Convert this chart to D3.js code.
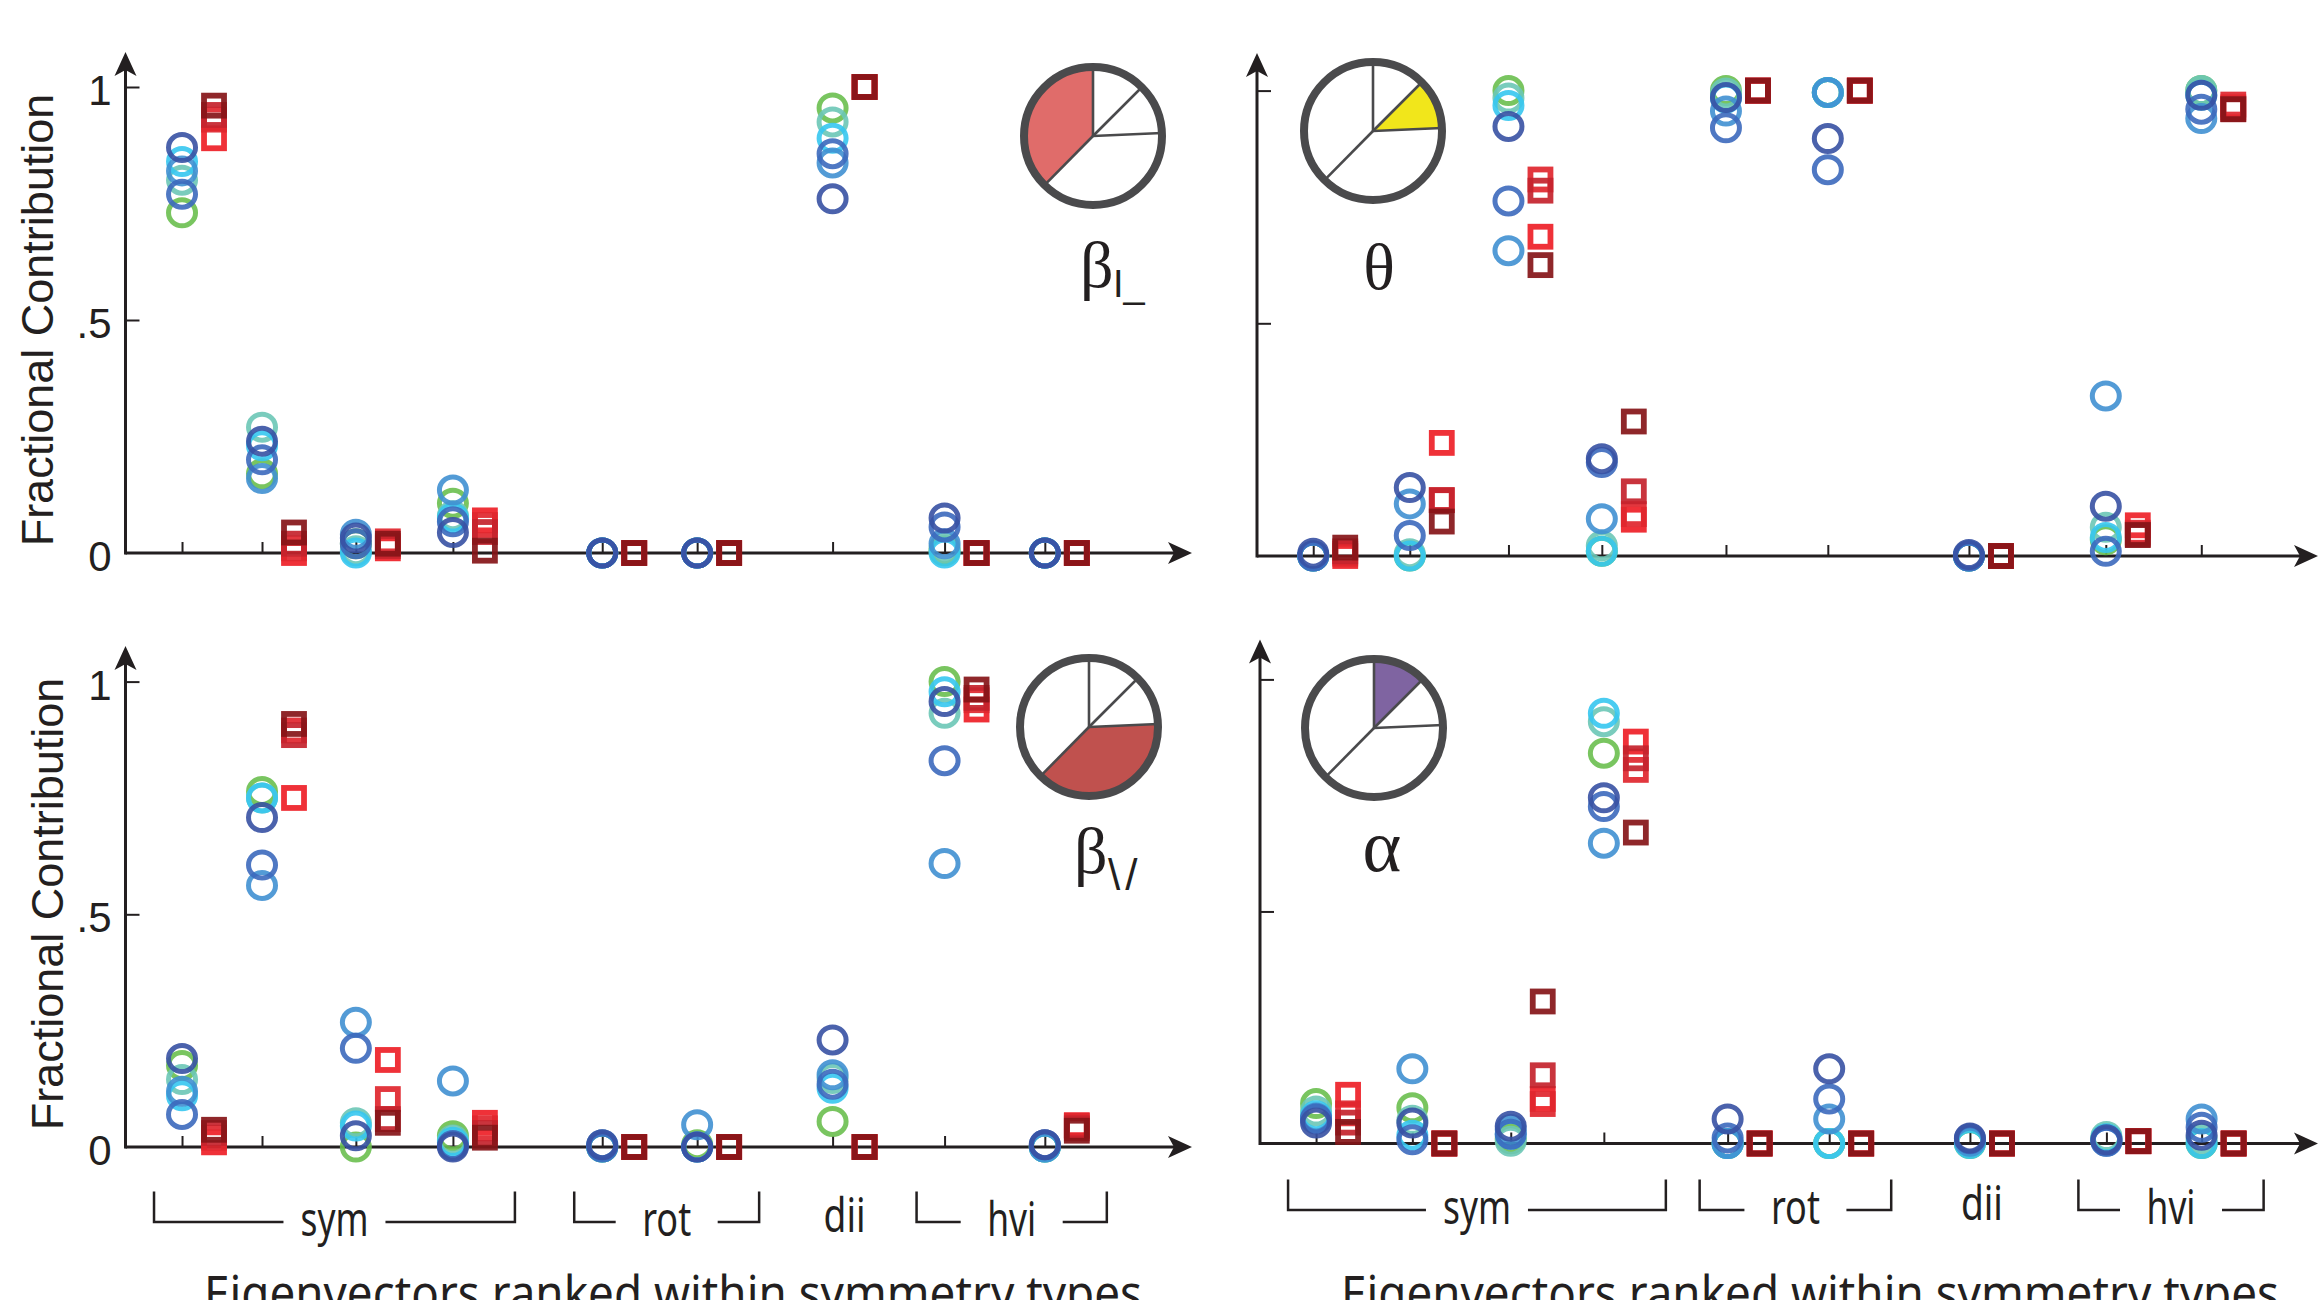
<!DOCTYPE html>
<html>
<head>
<meta charset="utf-8">
<script src="https://cdn.jsdelivr.net/npm/d3@7/dist/d3.min.js"></script>
<style>
  body { margin: 0; background: #fff; }
  svg { display: block; }
  .tick line { stroke: #231f20; stroke-width: 2; }
  .tick text { font-family: "Liberation Sans", Arial, sans-serif; font-size: 42px; fill: #231f20; }
</style>
</head>
<body>
<svg id="chart" width="2320" height="1300"></svg>
<script>
// eigenvector slots (x position in rank units), left and right columns
const slotsLeft  = [0.53, 1.28, 2.16, 3.07, 4.47, 5.36, 6.63, 7.68, 8.62];
const slotsRight = [0.53, 1.44, 2.37, 3.25, 4.42, 5.38, 6.71, 8.00, 8.90];
const groups = [
  { name: "sym", from: 0, to: 3, len: 68 },
  { name: "rot", from: 4, to: 5, len: 49 },
  { name: "dii", from: 6, to: 6, len: 42 },
  { name: "hvi", from: 7, to: 8, len: 49 }
];
const yTicks = [0, 0.5, 1];
const yTickLabels = ["0", ".5", "1"];

// circle series: green, seafoam, cyan, sky, blue, navy
const circleColors = ["#6abf4f", "#6cc6b6", "#36c6ef", "#4090d1", "#3c69bd", "#3751a3"];
// square series: red, scarlet, crimson, dark red
const squareColors = ["#ee1f27", "#e0262e", "#c4232c", "#861518"];

// beta |_ (top left)
const betaLCircles = [
  [0.73, 0.17, 0.02, 0.107, 0.0, 0.0, 0.955, 0.005, 0.0],
  [0.80, 0.27, 0.005, 0.08, 0.0, 0.0, 0.925, 0.01, 0.0],
  [0.84, 0.23, 0.0, 0.075, 0.0, 0.0, 0.89, 0.0, 0.0],
  [0.82, 0.16, 0.04, 0.135, 0.0, 0.0, 0.837, 0.02, 0.0],
  [0.77, 0.20, 0.02, 0.067, 0.0, 0.0, 0.857, 0.056, 0.0],
  [0.87, 0.24, 0.032, 0.044, 0.0, 0.0, 0.76, 0.075, 0.0]
];
const betaLSquares = [
  [0.89, 0.0, 0.01, 0.07, 0, 0, 1.0, 0, 0],
  [0.93, 0.01, 0.025, 0.06, 0, 0, 1.0, 0, 0],
  [0.94, 0.02, 0.015, 0.045, 0, 0, 1.0, 0, 0],
  [0.96, 0.044, 0.02, 0.005, 0, 0, 1.0, 0, 0]
];

// theta (top right)
const thetaCircles = [
  [0.0, 0.0, 1.0, 0.01, 1.0, 0.996, 0.0, 0.035, 1.0],
  [0.0, 0.005, 0.984, 0.022, 0.995, 0.996, 0.0, 0.062, 1.0],
  [0.0, 0.0, 0.968, 0.01, 0.984, 0.996, 0.0, 0.04, 0.99],
  [0.0, 0.112, 0.656, 0.08, 0.956, 0.996, 0.0, 0.344, 0.94],
  [0.0, 0.044, 0.763, 0.201, 0.92, 0.83, 0.0, 0.01, 0.96],
  [0.006, 0.147, 0.923, 0.209, 0.985, 0.897, 0.003, 0.107, 0.99]
];
const thetaSquares = [
  [0.0, 0.243, 0.686, 0.078, 1.0, 1.0, 0, 0.066, 0.964],
  [0.005, 0.12, 0.809, 0.09, 1.0, 1.0, 0, 0.05, 0.97],
  [0.01, 0.12, 0.785, 0.139, 1.0, 1.0, 0, 0.046, 0.96],
  [0.018, 0.074, 0.625, 0.289, 1.0, 1.0, 0.0, 0.045, 0.96]
];

// beta \/ (bottom left)
const betaVCircles = [
  [0.175, 0.764, 0.0, 0.024, 0.0, 0.005, 0.055, 1.0, 0.0],
  [0.145, 0.75, 0.052, 0.015, 0.0, 0.0, 0.147, 0.932, 0.0],
  [0.11, 0.75, 0.045, 0.01, 0.0, 0.0, 0.126, 0.978, 0.0],
  [0.12, 0.562, 0.268, 0.142, 0.005, 0.048, 0.155, 0.609, 0.0],
  [0.07, 0.606, 0.212, 0.003, 0.0, 0.0, 0.135, 0.83, 0.005],
  [0.19, 0.708, 0.024, 0.0, 0.005, 0.0, 0.23, 0.957, 0.005]
];
const betaVSquares = [
  [0.01, 0.75, 0.187, 0.052, 0, 0, 0, 0.94, 0.047],
  [0.02, 0.895, 0.103, 0.04, 0, 0, 0, 0.96, 0.045],
  [0.03, 0.885, 0.06, 0.03, 0, 0, 0, 0.965, 0.04],
  [0.037, 0.909, 0.052, 0.02, 0, 0, 0, 0.983, 0.035]
];

// alpha (bottom right)
const alphaCircles = [
  [0.086, 0.077, 0.01, 0.841, 0.0, 0.0, 0.0, 0.01, 0.0],
  [0.07, 0.05, 0.005, 0.909, 0.0, 0.0, 0.005, 0.015, 0.01],
  [0.06, 0.018, 0.02, 0.927, 0.0, 0.0, 0.0, 0.01, 0.0],
  [0.055, 0.161, 0.03, 0.647, 0.0, 0.053, 0.005, 0.005, 0.053],
  [0.053, 0.008, 0.02, 0.726, 0.012, 0.096, 0.01, 0.005, 0.035],
  [0.044, 0.044, 0.037, 0.745, 0.053, 0.161, 0.012, 0.008, 0.018]
];
const alphaSquares = [
  [0.105, 0.0, 0.096, 0.866, 0, 0, 0, 0.005, 0],
  [0.065, 0.0, 0.085, 0.805, 0, 0, 0, 0.005, 0],
  [0.045, 0.0, 0.147, 0.83, 0, 0, 0, 0.005, 0],
  [0.025, 0.0, 0.306, 0.67, 0, 0, 0, 0.005, 0]
];

// pie: share of each parameter (alpha, theta, beta \/, beta |_)
const pieShares = [0.125, 0.118, 0.381, 0.376];
const pieFills = ["#7f64a1", "#f1e61b", "#c0514e", "#e06c6a"];

const panels = [
  { circles: betaLCircles, squares: betaLSquares, slots: slotsLeft, slice: 3,
    ax: 125.5, ay: 553, xTip: 1192, yTip: 52, y1: 87, pie: [1093, 136],
    sym: "β", sub: "I_", symX: 1080, symY: 287, subX: 1113, subY: 297, subSize: 38,
    ylabel: [53, 320] },
  { circles: thetaCircles, squares: thetaSquares, slots: slotsRight, slice: 1,
    ax: 1257, ay: 556, xTip: 2318, yTip: 53, y1: 90.6, pie: [1373, 131],
    sym: "θ", sub: "", symX: 1379, symY: 289, anchor: "middle" },
  { circles: betaVCircles, squares: betaVSquares, slots: slotsLeft, slice: 2,
    ax: 125.5, ay: 1147, xTip: 1192, yTip: 646, y1: 681.6, pie: [1089, 727],
    sym: "β", sub: "\\/", symX: 1074, symY: 873, subX: 1108, subY: 890, subSize: 44,
    ylabel: [63, 904], bracketTop: 1191.6, titleX: 673 },
  { circles: alphaCircles, squares: alphaSquares, slots: slotsRight, slice: 0,
    ax: 1260, ay: 1143.5, xTip: 2318, yTip: 639.5, y1: 679.4, pie: [1374, 728],
    sym: "α", sub: "", symX: 1382, symY: 871, anchor: "middle", symSize: 74,
    bracketTop: 1179.5, titleX: 1810 }
];

const svg = d3.select("#chart");
const ink = "#231f20";

function drawPanel(p) {
  const g = svg.append("g");
  const x = d3.scaleLinear().domain([0, 10]).range([p.ax, p.xTip]);
  const y = d3.scaleLinear().domain([0, 1]).range([p.ay, p.y1]);

  // y ticks (inward) and labels on left column
  const yAxis = d3.axisLeft(y).tickValues(yTicks).tickSizeInner(-14).tickSizeOuter(0)
    .tickPadding(14)
    .tickFormat((d, i) => p.ylabel ? yTickLabels[i] : "");
  const ya = g.append("g").attr("transform", `translate(${p.ax},0)`).call(yAxis);
  ya.select(".domain").remove();
  ya.selectAll(".tick").filter(d => d === 0).select("line").remove();
  ya.selectAll(".tick text").attr("dy", "0.42em");

  // x ticks at each eigenvector slot (inward)
  const xAxis = d3.axisBottom(x).tickValues(p.slots).tickSizeInner(-11).tickSizeOuter(0).tickFormat("");
  const xa = g.append("g").attr("transform", `translate(0,${p.ay})`).call(xAxis);
  xa.select(".domain").remove();

  // axis lines with arrow heads
  g.append("line").attr("x1", p.ax).attr("y1", p.ay).attr("x2", p.xTip - 16).attr("y2", p.ay)
    .attr("stroke", ink).attr("stroke-width", 3);
  g.append("line").attr("x1", p.ax).attr("y1", p.ay + 1.5).attr("x2", p.ax).attr("y2", p.yTip + 16)
    .attr("stroke", ink).attr("stroke-width", 3);
  g.append("path")
    .attr("d", `M${p.xTip},${p.ay} L${p.xTip - 24},${p.ay - 11} L${p.xTip - 18},${p.ay} L${p.xTip - 24},${p.ay + 11} Z`)
    .attr("fill", ink);
  g.append("path")
    .attr("d", `M${p.ax},${p.yTip} L${p.ax - 11},${p.yTip + 24} L${p.ax},${p.yTip + 18} L${p.ax + 11},${p.yTip + 24} Z`)
    .attr("fill", ink);

  // pie glyph
  const pg = g.append("g").attr("transform", `translate(${p.pie[0]},${p.pie[1]})`);
  const arcs = d3.pie().sort(null).value(d => d)(pieShares);
  const arc = d3.arc().innerRadius(0).outerRadius(69);
  pg.selectAll("path.slice").data(arcs).join("path")
    .attr("class", "slice")
    .attr("d", arc)
    .attr("fill", (d, i) => i === p.slice ? pieFills[i] : "#fff");
  pg.selectAll("line.spoke").data(arcs).join("line")
    .attr("class", "spoke")
    .attr("x1", 0).attr("y1", 0)
    .attr("x2", d => 69 * Math.sin(d.startAngle))
    .attr("y2", d => -69 * Math.cos(d.startAngle))
    .attr("stroke", "#4a4a4c").attr("stroke-width", 2.6);
  pg.append("circle").attr("r", 69).attr("fill", "none")
    .attr("stroke", "#4a4a4c").attr("stroke-width", 8);

  // greek symbol
  g.append("text")
    .attr("x", p.symX).attr("y", p.symY)
    .attr("text-anchor", p.anchor || "start")
    .attr("font-family", "'Liberation Serif', 'Times New Roman', serif")
    .attr("font-size", p.symSize || 66)
    .attr("fill", ink)
    .text(p.sym);
  if (p.sub) {
    g.append("text")
      .attr("x", p.subX).attr("y", p.subY)
      .attr("font-family", "'Liberation Sans', Arial, sans-serif")
      .attr("font-size", p.subSize)
      .attr("letter-spacing", p.sub === "\\/" ? 5 : 0)
      .attr("fill", ink)
      .text(p.sub);
  }

  // y label
  if (p.ylabel) {
    g.append("text")
      .attr("transform", `translate(${p.ylabel[0]},${p.ylabel[1]}) rotate(-90)`)
      .attr("text-anchor", "middle")
      .attr("font-family", "'Liberation Sans', Arial, sans-serif")
      .attr("font-size", 45)
      .attr("fill", ink)
      .text("Fractional Contribution");
  }

  // circles
  p.circles.forEach((series, s) => {
    g.append("g").selectAll("ellipse").data(series).join("ellipse")
      .attr("cx", (d, i) => x(p.slots[i]))
      .attr("cy", d => y(d))
      .attr("rx", 13.5).attr("ry", 13)
      .attr("fill", "none")
      .attr("stroke", circleColors[s])
      .attr("stroke-width", 5)
      .attr("stroke-opacity", 0.9);
  });

  // squares
  p.squares.forEach((series, s) => {
    g.append("g").selectAll("rect").data(series).join("rect")
      .attr("x", (d, i) => x(p.slots[i]) + 32 - 10)
      .attr("y", d => y(d) - 10)
      .attr("width", 20).attr("height", 20)
      .attr("fill", "none")
      .attr("stroke", squareColors[s])
      .attr("stroke-width", 5.8)
      .attr("stroke-opacity", 0.92);
  });

  // symmetry brackets and title below bottom panels
  if (p.bracketTop) {
    const top = p.bracketTop, bot = p.bracketTop + 30.5;
    const font = "'Noto Sans', 'Open Sans', sans-serif";
    groups.forEach(gr => {
      const x0 = x(p.slots[gr.from]), x1 = x(p.slots[gr.to]);
      if (gr.from === gr.to) {
        g.append("text").attr("x", x0 + 12).attr("y", bot + 10)
          .attr("text-anchor", "middle").attr("font-family", font).attr("font-size", 47)
          .attr("textLength", gr.len).attr("lengthAdjust", "spacingAndGlyphs")
          .attr("fill", ink).text(gr.name);
        return;
      }
      const left = x0 - 28, right = x1 + 62, mid = (left + right) / 2;
      g.append("path")
        .attr("d", `M${left},${top} V${bot} H${mid - 51} M${mid + 51},${bot} H${right} V${top}`)
        .attr("fill", "none").attr("stroke", ink).attr("stroke-width", 2.5);
      g.append("text").attr("x", mid).attr("y", bot + 14)
        .attr("text-anchor", "middle").attr("font-family", font).attr("font-size", 47)
        .attr("textLength", gr.len).attr("lengthAdjust", "spacingAndGlyphs")
        .attr("fill", ink).text(gr.name);
    });
    g.append("text").attr("x", p.titleX).attr("y", 1311)
      .attr("text-anchor", "middle").attr("font-family", font).attr("font-size", 50)
      .attr("textLength", 938).attr("lengthAdjust", "spacingAndGlyphs")
      .attr("fill", ink).text("Eigenvectors ranked within symmetry types");
  }
}

panels.forEach(drawPanel);
</script>
</body>
</html>
